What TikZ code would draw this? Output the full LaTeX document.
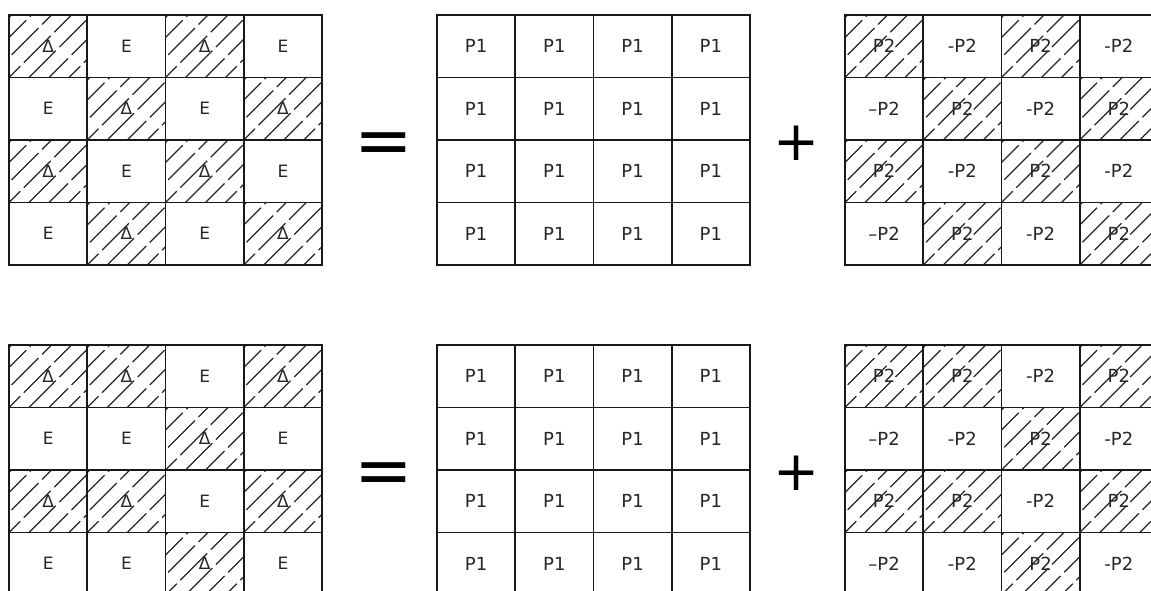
\documentclass[tikz,border=0pt]{standalone}
\usepackage{fontspec}
\setmainfont{DejaVu Sans}
\usetikzlibrary{positioning}

\newcommand{\smallcellfont}{\fontsize{17}{17}\selectfont}
\newcommand{\bigcellfont}{\fontsize{18}{18}\selectfont}

\tikzset{
  cell/.style={rectangle, draw=black!90, line width=1.9pt, anchor=north west,
               minimum width=78.25pt, minimum height=62.5pt,
               inner sep=0pt, outer sep=0pt, font=\bigcellfont, text=black!85},
  hatch/.style={path picture={
      \foreach \s in {-4,...,4}{
        \pgfmathsetmacro\ph{mod(\s+8,3)*11}
        \draw[black!85, line width=1.1pt, dash pattern=on 38pt off 5pt,
              dash phase=\ph pt]
          ([xshift=\s*20pt]path picture bounding box.south west) -- ++(80pt,80pt);}}},
  dcell/.style={cell, hatch, font=\smallcellfont, node contents={Δ}},
  ecell/.style={cell, font=\smallcellfont, node contents={E}},
  pcell/.style={cell, node contents={P1}},
  hcell/.style={cell, hatch, node contents={P2}},
  mcell/.style={cell, node contents={-P2}},
  ncell/.style={cell, node contents={–P2}},
  eqop/.style={font=\fontsize{70}{70}\selectfont, inner sep=0pt},
  plusop/.style={font=\fontsize{55}{55}\selectfont, inner sep=0pt}
}

\begin{document}
\begin{tikzpicture}[x=1pt, y=-1pt]
\useasboundingbox (0,0) rectangle (1151,590);

% top row
\foreach \k [count=\i from 0] in {dcell,ecell,dcell,ecell, ecell,dcell,ecell,dcell,
                                  dcell,ecell,dcell,ecell, ecell,dcell,ecell,dcell}
  \node[\k, name=tl-\i, at={({9+78.25*mod(\i,4)},{15+62.5*int(\i/4)})}];
\foreach \i in {0,...,15}
  \node[pcell, name=tm-\i, at={({437+78.25*mod(\i,4)},{15+62.5*int(\i/4)})}];
\foreach \k [count=\i from 0] in {hcell,mcell,hcell,mcell, ncell,hcell,mcell,hcell,
                                  hcell,mcell,hcell,mcell, ncell,hcell,mcell,hcell}
  \node[\k, name=tr-\i, at={({845+78.25*mod(\i,4)},{15+62.5*int(\i/4)})}];
\node[eqop] (eq1) at (383.5,148.5) {=};
\node[plusop] (plus1) at (797,143) {+};

% bottom row
\foreach \k [count=\i from 0] in {dcell,dcell,ecell,dcell, ecell,ecell,dcell,ecell,
                                  dcell,dcell,ecell,dcell, ecell,ecell,dcell,ecell}
  \node[\k, name=bl-\i, at={({9+78.25*mod(\i,4)},{345+62.5*int(\i/4)})}];
\foreach \i in {0,...,15}
  \node[pcell, name=bm-\i, at={({437+78.25*mod(\i,4)},{345+62.5*int(\i/4)})}];
\foreach \k [count=\i from 0] in {hcell,hcell,mcell,hcell, ncell,mcell,hcell,mcell,
                                  hcell,hcell,mcell,hcell, ncell,mcell,hcell,mcell}
  \node[\k, name=br-\i, at={({845+78.25*mod(\i,4)},{345+62.5*int(\i/4)})}];
\node[eqop] (eq2) at (383.5,479) {=};
\node[plusop] (plus2) at (797,473) {+};
\end{tikzpicture}
\end{document}
